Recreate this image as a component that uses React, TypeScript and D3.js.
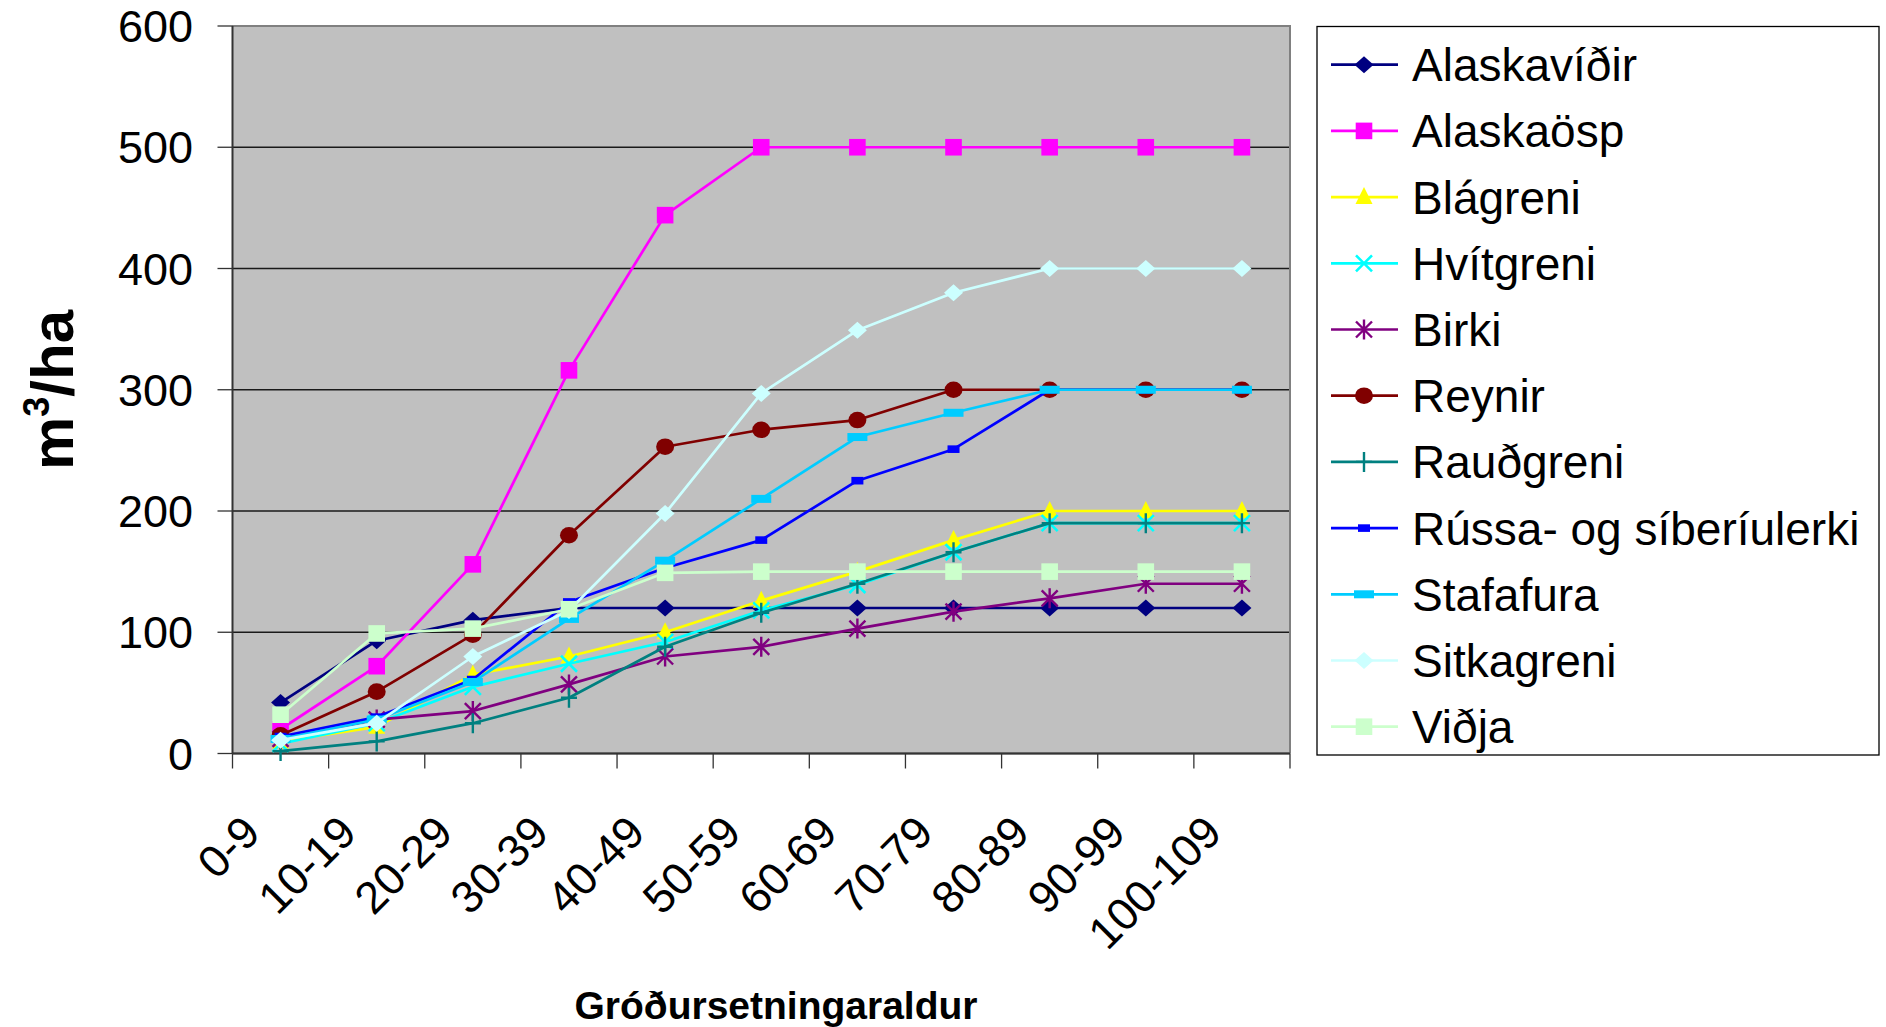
import React from "react";
import * as d3 from "d3";

// Age classes (years since planting)
const categories = ["0-9", "10-19", "20-29", "30-39", "40-49", "50-59", "60-69", "70-79", "80-89", "90-99", "100-109"];

// Standing volume, m³/ha, per species
const alaskavidir = [42, 93, 110, 120, 120, 120, 120, 120, 120, 120, 120];
const alaskaosp = [20, 72, 156, 316, 444, 500, 500, 500, 500, 500, 500];
const blagreni = [10, 22, 65, 80, 100, 126, 150, 176, 200, 200, 200];
const hvitgreni = [8, 25, 55, 74, 92, 118, 139, 166, 190, 190, 190];
const birki = [12, 28, 35, 57, 80, 88, 103, 117, 128, 140, 140];
const reynir = [15, 51, 98, 180, 253, 267, 275, 300, 300, 300, 300];
const raudgreni = [2, 10, 25, 46, 88, 116, 140, 166, 190, 190, 190];
const lerki = [14, 30, 61, 125, 153, 176, 225, 251, 300, 300, 300];
const stafafura = [12, 28, 59, 111, 159, 210, 261, 281, 300, 300, 300];
const sitkagreni = [11, 25, 80, 118, 198, 297, 349, 380, 400, 400, 400];
const vidja = [32, 99, 103, 119, 149, 150, 150, 150, 150, 150, 150];

const yTicks = [0, 100, 200, 300, 400, 500, 600];

type Marker = "diamond" | "square" | "triangle" | "x" | "star" | "circle" | "plus" | "dash" | "bar";

const series: { name: string; values: number[]; color: string; marker: Marker }[] = [
  { name: "Alaskavíðir", values: alaskavidir, color: "#000080", marker: "diamond" },
  { name: "Alaskaösp", values: alaskaosp, color: "#FF00FF", marker: "square" },
  { name: "Blágreni", values: blagreni, color: "#FFFF00", marker: "triangle" },
  { name: "Hvítgreni", values: hvitgreni, color: "#00FFFF", marker: "x" },
  { name: "Birki", values: birki, color: "#800080", marker: "star" },
  { name: "Reynir", values: reynir, color: "#800000", marker: "circle" },
  { name: "Rauðgreni", values: raudgreni, color: "#008080", marker: "plus" },
  { name: "Rússa- og síberíulerki", values: lerki, color: "#0000FF", marker: "dash" },
  { name: "Stafafura", values: stafafura, color: "#00CCFF", marker: "bar" },
  { name: "Sitkagreni", values: sitkagreni, color: "#CCFFFF", marker: "diamond" },
  { name: "Viðja", values: vidja, color: "#CCFFCC", marker: "square" },
];

const W = 1886;
const H = 1027;
const plot = { left: 232.5, right: 1290, top: 26, bottom: 753.5 };
const FONT = "'Liberation Sans', Arial, sans-serif";

function MarkerShape({ type, x, y, color }: { type: Marker; x: number; y: number; color: string }) {
  switch (type) {
    case "diamond":
      return <path d={`M${x - 9.5},${y}L${x},${y - 8.5}L${x + 9.5},${y}L${x},${y + 8.5}Z`} fill={color} />;
    case "square":
      return <rect x={x - 8.3} y={y - 8.3} width={16.6} height={16.6} fill={color} />;
    case "triangle":
      return <path d={`M${x},${y - 10}L${x + 8.5},${y + 7}L${x - 8.5},${y + 7}Z`} fill={color} />;
    case "x":
      return (
        <path d={`M${x - 8},${y - 8}L${x + 8},${y + 8}M${x - 8},${y + 8}L${x + 8},${y - 8}`} stroke={color} strokeWidth={2.6} />
      );
    case "star":
      return (
        <path
          d={`M${x - 8},${y - 8}L${x + 8},${y + 8}M${x - 8},${y + 8}L${x + 8},${y - 8}M${x},${y - 10}L${x},${y + 10}`}
          stroke={color}
          strokeWidth={2.4}
        />
      );
    case "circle":
      return <ellipse cx={x} cy={y} rx={9} ry={8.3} fill={color} />;
    case "plus":
      return <path d={`M${x - 8},${y}L${x + 8},${y}M${x},${y - 10}L${x},${y + 10}`} stroke={color} strokeWidth={2.4} />;
    case "dash":
      return <rect x={x - 6} y={y - 3.8} width={12} height={7.6} fill={color} />;
    case "bar":
      return <rect x={x - 10} y={y - 4} width={20} height={8} fill={color} />;
  }
}

export default function App() {
  const x = d3.scaleBand<string>().domain(categories).range([plot.left, plot.right]);
  const y = d3.scaleLinear().domain([0, 600]).range([plot.bottom, plot.top]);
  const cx = (c: string) => (x(c) as number) + x.bandwidth() / 2;
  const line = d3
    .line<number>()
    .x((_, i) => cx(categories[i]))
    .y((v) => y(v));

  const boundaries = [...categories.map((c) => x(c) as number), plot.right];

  const legend = { left: 1317, top: 26.5, right: 1879, bottom: 755, first: 64.7, step: 66.2 };

  return (
    <svg
      width={W}
      height={H}
      style={{ position: "absolute", left: 0, top: 0, background: "#fff" }}
      fontFamily={FONT}
    >
      <rect x={0} y={0} width={W} height={H} fill="#fff" />

      {/* plot area */}
      <rect x={plot.left} y={plot.top} width={plot.right - plot.left} height={plot.bottom - plot.top} fill="#C0C0C0" />

      {/* horizontal gridlines */}
      {yTicks.map((t) => (
        <line key={`g${t}`} x1={plot.left} x2={plot.right} y1={y(t)} y2={y(t)} stroke="#1a1a1a" strokeWidth={1.3} />
      ))}

      {/* plot frame */}
      <path
        d={`M${plot.left},${plot.top}H${plot.right}V${plot.bottom}`}
        fill="none"
        stroke="#808080"
        strokeWidth={2}
      />

      {/* y axis */}
      <line x1={plot.left} x2={plot.left} y1={plot.top} y2={plot.bottom} stroke="#333" strokeWidth={2} />
      {yTicks.map((t) => (
        <g key={`yt${t}`}>
          <line x1={plot.left - 15} x2={plot.left} y1={y(t)} y2={y(t)} stroke="#333" strokeWidth={1.3} />
          <text x={193} y={y(t)} dy="0.36em" textAnchor="end" fontSize={45} fill="#000">
            {t}
          </text>
        </g>
      ))}

      {/* x axis */}
      <line x1={plot.left} x2={plot.right} y1={plot.bottom} y2={plot.bottom} stroke="#333" strokeWidth={2} />
      {boundaries.map((b, i) => (
        <line key={`xt${i}`} x1={b} x2={b} y1={plot.bottom} y2={plot.bottom + 15} stroke="#333" strokeWidth={1.3} />
      ))}
      {categories.map((c) => (
        <text
          key={`xl${c}`}
          transform={`translate(${cx(c) - 18},${835}) rotate(-45)`}
          textAnchor="end"
          fontSize={45}
          fill="#000"
        >
          {c}
        </text>
      ))}

      {/* series */}
      {series.map((s) => (
        <g key={s.name}>
          <path d={line(s.values) || ""} fill="none" stroke={s.color} strokeWidth={2.7} strokeLinejoin="round" />
          {s.values.map((v, i) => (
            <MarkerShape key={i} type={s.marker} x={cx(categories[i])} y={y(v)} color={s.color} />
          ))}
        </g>
      ))}

      {/* axis titles */}
      <text
        transform="translate(73,390) rotate(-90)"
        textAnchor="middle"
        fontSize={60}
        fontWeight="bold"
        fill="#000"
      >
        m<tspan fontSize={36} dy={-24}>3</tspan>
        <tspan dy={24}>/ha</tspan>
      </text>
      <text x={776} y={1019} textAnchor="middle" fontSize={39} fontWeight="bold" fill="#000">
        Gróðursetningaraldur
      </text>

      {/* legend */}
      <rect
        x={legend.left}
        y={legend.top}
        width={legend.right - legend.left}
        height={legend.bottom - legend.top}
        fill="#fff"
        stroke="#000"
        strokeWidth={1.3}
      />
      {series.map((s, i) => {
        const ly = legend.first + i * legend.step;
        return (
          <g key={`lg${s.name}`}>
            <line x1={1331} x2={1398} y1={ly} y2={ly} stroke={s.color} strokeWidth={2.7} />
            <MarkerShape type={s.marker} x={1364} y={ly} color={s.color} />
            <text x={1412} y={ly} dy="0.36em" fontSize={46} fill="#000">
              {s.name}
            </text>
          </g>
        );
      })}
    </svg>
  );
}
